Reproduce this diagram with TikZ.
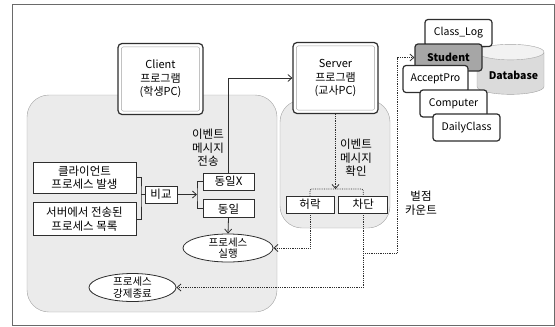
\documentclass[tikz,border=0pt]{standalone}
\usepackage{fontspec}
\setmainfont{Noto Sans CJK KR}
\usetikzlibrary{positioning, arrows.meta, shapes.geometric}
\definecolor{lineDark}{HTML}{2E2E2E}
\definecolor{frameGrey}{HTML}{6A6A6A}
\definecolor{regionGrey}{HTML}{EBEBEB}
\definecolor{regionEdge}{HTML}{A2A2A2}
\definecolor{tableGrey}{HTML}{A6A6A6}

\begin{document}
\begin{tikzpicture}[x=1pt, y=-1pt, font=\fontsize{11.5}{13.5}\selectfont,
    box/.style={draw=lineDark, thick, fill=white, align=center, inner sep=1pt},
    progbox/.style={draw=lineDark, very thick, rounded corners=4pt, fill=white,
      minimum width=85pt, minimum height=71pt, align=center,
      font=\fontsize{11}{13.5}\selectfont},
    region/.style={draw=regionEdge, fill=regionGrey, rounded corners=22pt},
    oval/.style={ellipse, draw=lineDark, thick, fill=white, align=center, inner sep=-3pt,
      font=\fontsize{10.5}{11.5}\selectfont},
    tbl/.style={draw=lineDark, very thick, rounded corners=3pt, fill=white,
      minimum width=67pt, minimum height=27pt, font=\fontsize{10.5}{12}\selectfont},
    line/.style={draw=lineDark, thick},
    arr/.style={line, -{Straight Barb[length=4pt, width=7pt]}},
    dotline/.style={line, densely dotted},
    dotarr/.style={dotline, -{Straight Barb[length=4pt, width=7pt]}},
    note/.style={align=center}]
  \useasboundingbox (0,0) rectangle (555,327);
  \draw[frameGrey, thick] (12,4) rectangle (554,325);

  % grey areas behind both programs
  \draw[region] (27,95) rectangle (277,312);
  \draw[region] (280,100) rectangle (390,228);

  % programs
  \node[progbox] (client) at (160.5,79) {Client\\프로그램\\(학생PC)};
  \node[progbox] (server) at (335.5,78) {Server\\프로그램\\(교사PC)};
  \foreach \n in {client, server}
    \draw[regionEdge, rounded corners=2pt] ([shift={(4,-4)}]\n.south west)
      rectangle ([shift={(-4,4)}]\n.north east);

  % client side
  \node[box, minimum width=103pt, minimum height=31pt] (genproc) at (84.5,177.5)
    {클라이언트\\프로세스 발생};
  \node[box, minimum width=103pt, minimum height=33pt, below=9pt of genproc] (listproc)
    {서버에서 전송된\\프로세스 목록};
  \node[box, minimum width=32pt, minimum height=17pt] (compare) at (161,194.5) {비교};
  \node[box, minimum width=51pt, minimum height=17pt] (sameX) at (228.5,181.5) {동일X};
  \node[box, minimum width=51pt, minimum height=18pt, below=9pt of sameX] (same) {동일};
  \node[oval, minimum width=90pt, minimum height=28pt] (run) at (228,248) {프로세스\\실행};
  \node[oval, minimum width=87pt, minimum height=28pt] (kill) at (132.5,287.5) {프로세스\\강제종료};
  \node[note] (sendlbl) at (208,148) {이벤트\\메시지\\전송};

  % server side
  \node[box, minimum width=48pt, minimum height=17pt] (allow) at (310,204.5) {허락};
  \node[box, minimum width=49pt, minimum height=17pt, right=4pt of allow] (block) {차단};
  \node[note] (checklbl) at (356,158) {이벤트\\메시지\\확인};
  \node[note] (countlbl) at (421,203) {벌점\\카운트};

  % database
  \node[cylinder, shape border rotate=90, aspect=0.25, draw=regionEdge,
        cylinder uses custom fill, cylinder body fill=gray!28, cylinder end fill=gray!10,
        minimum width=67pt, minimum height=50pt, font=\fontsize{10.5}{12}\selectfont\bfseries]
    (db) at (510.5,75) {\hspace*{6pt}Database};
  \node[tbl] (classlog) at (458.5,33) {Class\_Log};
  \node[tbl, fill=tableGrey, font=\fontsize{10.5}{12}\selectfont\bfseries] (student) at (448.5,57.5) {Student};
  \node[tbl, minimum width=65pt] (accept) at (435.5,79) {AcceptPro};
  \node[tbl] (computer) at (453.5,103.5) {Computer};
  \node[tbl] (daily) at (466.5,127.5) {DailyClass};

  % connectors
  \coordinate (join) at (141,194.5);
  \coordinate (fork) at (197,194.5);
  \coordinate (split) at (335.5,189);
  \coordinate (tally) at (397,253);
  \draw[line] (genproc.east) -| (join) |- (listproc.east);
  \draw[line] (join) -- (compare.west);
  \draw[arr] (compare.east) -- (fork);
  \draw[line] (sameX.west) -| (fork) |- (same.west);
  \draw[arr] (sameX.north) |- (server.west);
  \draw[arr] (same.south) -- (run.north);
  \draw[dotarr] (server.south) -- (split);
  \draw[dotline, rounded corners=2pt] (allow.north) |- (split) -| (block.north);
  \draw[dotarr] (allow.south) |- (run.east);
  \draw[dotarr] (block.south) |- (kill.east);
  \draw[dotarr] (block.south |- tally) -- (tally) |- (student.west);
\end{tikzpicture}
\end{document}
